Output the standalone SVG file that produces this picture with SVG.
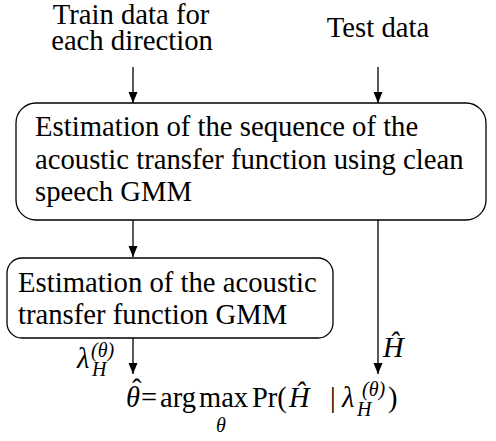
<svg xmlns="http://www.w3.org/2000/svg" width="496" height="441" viewBox="0 0 496 441">
<style>
text{font-family:'Liberation Serif','Times New Roman',Tinos,'DejaVu Serif',serif;fill:#000}
.t{font-size:28.7px}
.m{font-size:28.5px}
.i{font-style:italic}
.s{font-size:20px}
.box{fill:#fff;stroke:#000;stroke-width:1.3}
.c{stroke:#000;stroke-width:1.3;fill:none;marker-end:url(#ah)}
</style>
<defs>
<marker id="ah" markerUnits="userSpaceOnUse" markerWidth="12" markerHeight="10" refX="11" refY="5" orient="auto" viewBox="0 0 12 10">
<path d="M0,0.5 L11,5 L0,9.5 Z" fill="#000"/>
</marker>
</defs>
<g id="in-train">
<text class="t" x="131" y="24" text-anchor="middle">Train data for</text>
<text class="t" x="132" y="50" text-anchor="middle">each direction</text>
</g>
<g id="in-test">
<text class="t" x="378" y="37" text-anchor="middle">Test data</text>
</g>
<g id="seq-est">
<rect class="box" x="16" y="103" width="470" height="117" rx="20" ry="20"/>
<text class="t" x="35" y="136">Estimation of the sequence of the</text>
<text class="t" x="35" y="169">acoustic transfer function using clean</text>
<text class="t" x="35" y="201">speech GMM</text>
</g>
<g id="gmm-est">
<rect class="box" x="7" y="258" width="326" height="80" rx="15" ry="15"/>
<text class="t" x="18" y="292">Estimation of the acoustic</text>
<text class="t" x="18" y="324">transfer function GMM</text>
</g>
<g id="connectors">
<line class="c" x1="133" y1="67" x2="133" y2="103"/>
<line class="c" x1="378" y1="67" x2="378" y2="103"/>
<line class="c" x1="133" y1="220" x2="133" y2="257"/>
<line class="c" x1="378" y1="220" x2="378" y2="374"/>
<line class="c" x1="133" y1="338" x2="133" y2="374"/>
</g>
<g id="label-lambda">
<text class="m i" x="77" y="368">λ</text>
<text class="m i s" x="91" y="357">(θ)</text>
<text class="m i s" x="92" y="376">H</text>
</g>
<g id="label-hhat">
<text class="m i" x="383" y="357">Ĥ</text>
</g>
<g id="formula">
<text class="m i" x="126" y="407">θ</text>
<text class="m" x="132" y="399">ˆ</text>
<text class="m" x="141" y="407">=</text>
<text class="m" x="160" y="407">arg</text>
<text class="m" x="199" y="407">max</text>
<text class="m i s" x="216" y="432">θ</text>
<text class="m" x="252" y="407">Pr(</text>
<text class="m i" x="289" y="407" font-size="30">Ĥ</text>
<text class="m" x="330" y="407">|</text>
<text class="m i" x="342" y="407">λ</text>
<text class="m i s" x="362" y="396">(θ)</text>
<text class="m i s" x="357" y="416">H</text>
<text class="m" x="388" y="407">)</text>
</g>
</svg>
